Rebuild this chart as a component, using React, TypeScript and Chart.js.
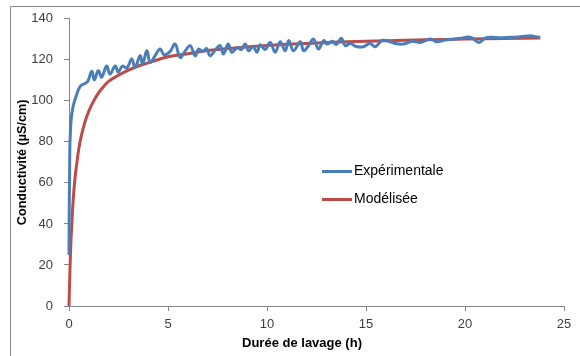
import React, { useEffect, useRef } from "react";
import { Chart, registerables } from "chart.js";

Chart.register(...registerables);

const xAxisTitle = "Durée de lavage (h)";
const yAxisTitle = "Conductivité (µS/cm)";
const seriesNames = ["Expérimentale", "Modélisée"];
const seriesColors = ["#4A7EBB", "#BE4B48"];

const xMin = 0;
const xMax = 25;
const xStep = 5;
const yMin = 0;
const yMax = 140;
const yStep = 20;

// Experimental series (hours, µS/cm)
const expTime = [
  0, 0.04, 0.1, 0.2, 0.35, 0.56, 0.8, 0.95, 1.15, 1.28, 1.48, 1.65, 1.9, 2.07, 2.33, 2.49,
  2.7, 2.92, 3.17, 3.34, 3.59, 3.72, 3.93, 4.1, 4.35, 4.6, 4.8, 5.1, 5.36, 5.61, 5.85, 6.12,
  6.37, 6.54, 6.75, 6.95, 7.13, 7.4, 7.63, 7.8, 8.04, 8.22, 8.5, 8.7, 8.9, 9.07, 9.3, 9.49,
  9.66, 9.9, 10.16, 10.41, 10.67, 10.92, 11.1, 11.34, 11.68, 11.85, 12.1, 12.35, 12.6, 12.86,
  13.03, 13.3, 13.5, 13.75, 13.95, 14.2, 14.5, 14.87, 15.2, 15.47, 15.8, 16.0, 16.48, 16.9,
  17.34, 17.75, 18.25, 18.6, 19.0, 19.4, 19.77, 20.27, 20.7, 21.0, 21.3, 21.8, 22.3, 22.8,
  23.3, 23.6, 23.8,
];
const expValue = [
  25, 75, 90, 97, 102, 107, 108.5, 109.5, 114.4, 110.2, 114.7, 111.5, 117, 113, 117, 114,
  117, 116, 120.4, 116.3, 122, 118, 124.4, 118.8, 122, 125.3, 122.5, 124, 127.7, 121.2, 124, 126.9,
  122, 125.3, 124, 125.5, 122, 125, 126.9, 122.8, 127.7, 123.7, 126, 125, 127.7, 124.4, 126.5, 123.7,
  127.4, 125, 128.5, 123.7, 128.8, 124.4, 129.4, 124.4, 128.8, 124.4, 127, 130.1, 125.3, 129.4,
  127.7, 129, 127.5, 130.5, 126.9, 128, 126.5, 126.4, 128, 126.4, 129.4, 129.4, 128, 127.7,
  129, 128.5, 130.1, 128.8, 129.7, 130, 130.5, 131, 128.5, 130.5, 131, 130.8, 131, 131.2,
  131.7, 131.2, 131,
];

// Modelled series (hours, µS/cm)
const modTime = [
  0, 0.05, 0.1, 0.15, 0.2, 0.3, 0.4, 0.5, 0.6, 0.8, 1.0, 1.25, 1.5, 1.75, 2.0, 2.5, 3.0, 3.5,
  4.0, 5.0, 6.0, 7.0, 8.0, 9.0, 10, 12, 14, 16, 18, 20, 22, 23.8,
];
const modValue = [
  0, 18, 32, 41, 50, 62, 70, 77, 82, 89.5, 95, 100, 104, 107, 109.5, 112.5, 115, 117,
  118.5, 121.5, 123, 124.5, 125.5, 126.3, 127, 128, 128.8, 129.3, 129.8, 130.1, 130.4, 130.6,
];

const FONT = "'Liberation Sans', Arial, sans-serif";
const AXIS_GRAY = "#868686";
const TEXT_GRAY = "#404040";

const decorPlugin = {
  id: "decor",
  beforeDraw(chart: any) {
    const ctx = chart.ctx;
    ctx.save();
    ctx.fillStyle = "#ffffff";
    ctx.fillRect(0, 0, chart.width, chart.height);
    ctx.strokeStyle = AXIS_GRAY;
    ctx.lineWidth = 1;
    ctx.beginPath();
    ctx.moveTo(10.5, chart.height);
    ctx.lineTo(10.5, 6.5);
    ctx.lineTo(chart.width, 6.5);
    ctx.stroke();
    ctx.restore();
  },
  afterDraw(chart: any) {
    const ctx = chart.ctx;
    const area = chart.chartArea;
    ctx.save();
    // axis titles
    ctx.fillStyle = "#000000";
    ctx.font = `bold 13px ${FONT}`;
    ctx.textAlign = "center";
    ctx.textBaseline = "middle";
    ctx.fillText(xAxisTitle, 302, 343);
    ctx.save();
    ctx.translate(23, (area.top + area.bottom) / 2);
    ctx.rotate(-Math.PI / 2);
    ctx.font = `bold 12.6px ${FONT}`;
    ctx.fillText(yAxisTitle, 0, 0);
    ctx.restore();
    // legend
    const legendY = [171.5, 199.5];
    chart.data.datasets.forEach((ds: any, i: number) => {
      ctx.strokeStyle = ds.borderColor;
      ctx.lineWidth = 3;
      ctx.beginPath();
      ctx.moveTo(322, legendY[i]);
      ctx.lineTo(352, legendY[i]);
      ctx.stroke();
      ctx.fillStyle = "#000000";
      ctx.font = `14px ${FONT}`;
      ctx.textAlign = "left";
      ctx.textBaseline = "middle";
      ctx.fillText(ds.label, 354, legendY[i]);
    });
    ctx.restore();
  },
};

export default function App() {
  const canvasRef = useRef<HTMLCanvasElement | null>(null);

  useEffect(() => {
    if (!canvasRef.current) return;
    const expData = expTime.map((t, i) => ({ x: t, y: expValue[i] }));
    const modData = modTime.map((t, i) => ({ x: t, y: modValue[i] }));
    const chart = new Chart(canvasRef.current, {
      type: "line",
      data: {
        datasets: [
          {
            label: seriesNames[0],
            data: expData,
            borderColor: seriesColors[0],
            backgroundColor: seriesColors[0],
            borderWidth: 3,
            pointRadius: 0,
            tension: 0.4,
            fill: false,
            clip: false as any,
          },
          {
            label: seriesNames[1],
            data: modData,
            borderColor: seriesColors[1],
            backgroundColor: seriesColors[1],
            borderWidth: 3,
            pointRadius: 0,
            tension: 0.4,
            fill: false,
            clip: false as any,
          },
        ],
      },
      options: {
        animation: false,
        responsive: false,
        maintainAspectRatio: false,
        layout: { padding: { top: 18, right: 16, bottom: 0, left: 0 } },
        plugins: {
          legend: { display: false },
          tooltip: { enabled: false },
          title: { display: false },
        },
        scales: {
          x: {
            type: "linear",
            min: xMin,
            max: xMax,
            ticks: {
              stepSize: xStep,
              color: TEXT_GRAY,
              font: { family: FONT, size: 13 },
              padding: 6,
            },
            grid: {
              display: true,
              drawOnChartArea: false,
              drawTicks: true,
              tickLength: 5,
              color: AXIS_GRAY,
            },
            border: { display: true, color: AXIS_GRAY, width: 1 },
            afterFit: (scale: any) => {
              scale.height = 50;
            },
          },
          y: {
            type: "linear",
            min: yMin,
            max: yMax,
            ticks: {
              stepSize: yStep,
              color: TEXT_GRAY,
              font: { family: FONT, size: 13 },
              padding: 11,
            },
            grid: {
              display: true,
              drawOnChartArea: false,
              drawTicks: true,
              tickLength: 5,
              color: AXIS_GRAY,
            },
            border: { display: true, color: AXIS_GRAY, width: 1 },
            afterFit: (scale: any) => {
              scale.width = 69;
            },
          },
        },
      },
      plugins: [decorPlugin],
    });
    return () => chart.destroy();
  }, []);

  return (
    <div style={{ position: "fixed", left: 0, top: 0, width: 580, height: 356, background: "#fff" }}>
      <canvas ref={canvasRef} width={580} height={356} style={{ display: "block" }} />
    </div>
  );
}
